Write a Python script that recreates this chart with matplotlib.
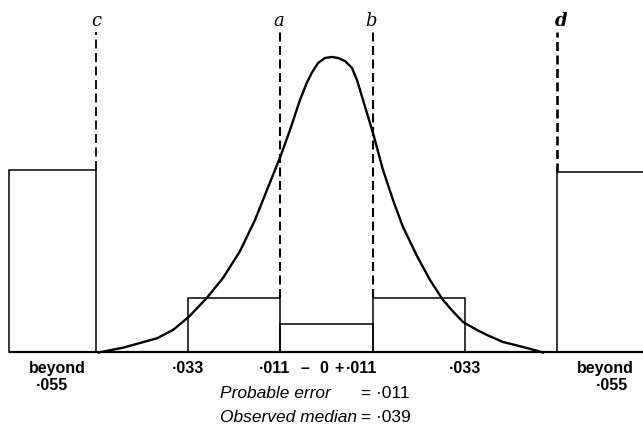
import matplotlib
matplotlib.use("Agg")
import matplotlib.pyplot as plt

# ---- data ----
bin_edges = [-0.076, -0.055, -0.033, -0.011, 0.011, 0.033, 0.055, 0.080]
bin_heights = [6.5, 0.0, 1.95, 1.0, 1.95, 0.0, 6.45]

curve_x = [-0.05452, -0.04866, -0.04053, -0.03671, -0.03288, -0.02857,
           -0.02475, -0.02068, -0.01710, -0.01423, -0.01088, -0.00873,
           -0.00634, -0.00473, -0.00354, -0.00203, -0.00036, 0.00132,
           0.00275, 0.00442, 0.00610, 0.00729, 0.00873, 0.01112, 0.01351,
           0.01590, 0.01829, 0.02164, 0.02475, 0.02786, 0.03025, 0.03264,
           0.03599, 0.03838, 0.04221, 0.04794, 0.05177]
curve_y = [0.0, 0.171, 0.507, 0.804, 1.279, 1.957, 2.661, 3.62, 4.732,
           5.804, 7.054, 7.946, 9.018, 9.625, 9.982, 10.339, 10.518, 10.554,
           10.518, 10.411, 10.161, 9.732, 9.018, 7.84, 6.518, 5.446, 4.482,
           3.446, 2.589, 1.875, 1.464, 1.089, 0.804, 0.625, 0.375, 0.161, 0.0]

line_names = ["c", "a", "b", "d"]
line_x = [-0.055, -0.011, 0.011, 0.055]
line_top = 11.45

tick_pos = [-0.033, 0.033]
tick_labels = ["\u00b7033", "\u00b7033"]
note_lines = [("Probable error", "= \u00b7011"), ("Observed median", "= \u00b7039")]

# ---- figure ----
fig = plt.figure(figsize=(6.43, 4.26), dpi=100)
ax = fig.add_axes([0, 0, 1, 1])
ax.set_xlim(-0.07807, 0.07568)
ax.set_ylim(-2.625, 12.589)
ax.axis("off")

# baseline
ax.plot([bin_edges[0], 0.0757], [0, 0], color="black", lw=1.6,
        solid_capstyle="butt")

# histogram boxes
widths = [bin_edges[i + 1] - bin_edges[i] for i in range(len(bin_heights))]
for i, h in enumerate(bin_heights):
    if h > 0:
        ax.bar(bin_edges[i], h, width=widths[i], align="edge", fill=False,
               edgecolor="black", linewidth=1.1)

# dashed division lines
line_w = [1.3, 1.5, 1.5, 1.9]
label_dx = [0.0, -0.0003, -0.0003, 0.0010]
for xv, name, lw, dx in zip(line_x, line_names, line_w, label_dx):
    idx = bin_edges.index(xv)
    base = max(bin_heights[idx - 1], bin_heights[idx])
    pt = lw * 100 / 72.0
    ax.plot([xv, xv], [base, line_top], color="black", lw=lw,
            linestyle=(0, (9 / pt, 4.5 / pt)))
    ax.text(xv + dx, 11.66, name, ha="center", va="baseline",
            fontsize=13, family="DejaVu Serif", style="italic",
            fontweight="bold" if name == "d" else "normal")

# curve
ax.plot(curve_x, curve_y, color="black", lw=1.7, solid_joinstyle="round")

# bottom labels
lab_font = dict(family="Liberation Sans", fontweight="bold", fontsize=11.5)
y_row1 = -0.554
y_row2 = -1.196
ax.text(-0.0644, y_row1, "beyond", ha="center", va="center", **lab_font)
ax.text(-0.0656, y_row2, "\u00b7055", ha="center", va="center", **lab_font)
ax.text(0.0668, y_row1, "beyond", ha="center", va="center", **lab_font)
ax.text(0.0683, y_row2, "\u00b7055", ha="center", va="center", **lab_font)
for xp, lab in zip(tick_pos, tick_labels):
    ax.text(xp, y_row1, lab, ha="center", va="center", **lab_font)
# central group: ·011 – 0 + ·011
center_parts = ["\u00b7011", "\u2013", "0", "+", "\u00b7011"]
center_px = [275, 305, 324, 339, 362]
for lab, px in zip(center_parts, center_px):
    ax.text((px - 326.5) / 4182, y_row1, lab, ha="center", va="center",
            **lab_font)

note_y = [-1.482, -2.304]
for (lhs, rhs), yv in zip(note_lines, note_y):
    ax.text(-0.0254, yv, lhs, ha="left", va="center", style="italic",
            family="Liberation Sans", fontsize=12.5)
    ax.text(0.0083, yv, rhs, ha="left", va="center",
            family="Liberation Sans", fontsize=12.5)

fig.savefig("out.png", dpi=100)
